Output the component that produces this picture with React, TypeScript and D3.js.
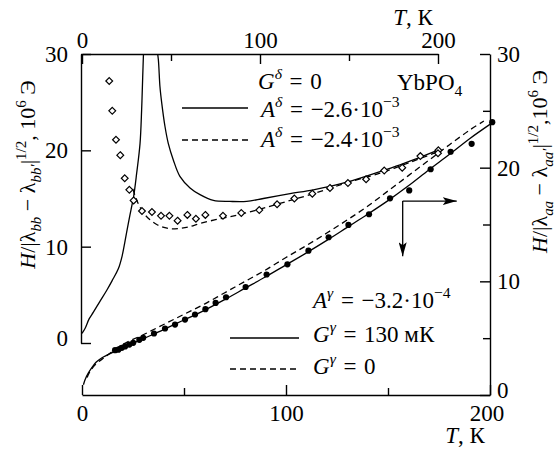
import { useEffect, useRef } from 'react';
import * as d3 from 'd3';

// open diamonds: top T axis, left axis
const diamondT = [15.3, 17.0, 19.1, 21.5, 24.0, 26.6, 29.0, 33.7, 39.3, 44.4, 49.1, 53.7, 59.2, 64.0, 69.3, 79.2, 89.5, 99.6, 109.6, 119.3, 129.4, 139.3, 149.4, 159.6, 169.8, 179.9, 190.1, 200.2, 200.0];
const diamondH = [27.2, 24.1, 21.1, 19.5, 17.1, 15.9, 14.8, 13.7, 13.6, 13.2, 13.2, 12.7, 13.3, 12.9, 13.3, 13.2, 13.5, 13.8, 14.4, 15.0, 15.5, 16.1, 16.6, 17.0, 17.9, 18.2, 19.4, 20.0, 19.7];

// filled circles: bottom T axis, right axis
const circleT = [16.2, 17.8, 19.5, 21.1, 23.2, 25.1, 28.1, 30.0, 35.3, 40.7, 45.6, 50.5, 55.4, 60.5, 65.5, 70.6, 80.2, 90.5, 100.7, 111, 120.9, 130.6, 140.7, 151, 160.4, 170.9, 180.7, 191, 201.1];
const circleH = [3.94, 3.99, 4.15, 4.27, 4.44, 4.59, 4.85, 5.03, 5.41, 5.85, 6.2, 6.64, 7.08, 7.55, 8.1, 8.6, 9.5, 10.6, 11.5, 12.7, 13.88, 14.96, 15.9, 17.3, 18.0, 19.86, 21.4, 22.1, 24.0];

// A^delta = -2.6e-3 (two branches around the pole)
const deltaSolidLow: [number, number][] = [
  [0, 1.0], [1.7, 1.5], [4, 2.5], [6.4, 3.2], [10, 4.3], [14, 5.5], [17, 6.5], [20.4, 7.7],
  [22.5, 9.0], [24.2, 10.6], [26, 12.4], [27.5, 13.8], [29, 15.2], [30.7, 17.6], [32.6, 20.7],
  [33.5, 24.2], [34.1, 27.6], [34.6, 30.4],
];
const deltaSolidHigh: [number, number][] = [
  [42.2, 30.4], [42.9, 29.4], [43.8, 26.6], [44.8, 24.9], [46.6, 22.5], [48.5, 20.7], [51.3, 19.0],
  [55, 17.3], [60.7, 16.1], [66.3, 15.4], [73.8, 14.8], [83.1, 14.7], [92.5, 14.7], [101.9, 15.0],
  [116.9, 15.5], [130, 15.9], [148.7, 16.7], [167.4, 17.8], [178.7, 18.5], [186.1, 19.0], [201, 20.1],
];
// A^delta = -2.4e-3
const deltaDashed: [number, number][] = [
  [28.5, 16.0], [30, 15.2], [32, 14.3], [35, 13.4], [38.2, 12.8], [42, 12.3], [46, 12.0], [50, 11.85],
  [55, 11.9], [60, 12.05], [66.3, 12.4], [75, 12.8], [83, 13.1], [92, 13.5], [102, 14.0], [117, 14.8],
  [130, 15.5], [140, 16.1], [150, 16.7], [167, 17.6], [185, 18.8], [200.5, 19.9],
];

// G^gamma = 130 mK
const gammaSolid: [number, number][] = [
  [0.7, 0.9], [1.5, 1.35], [3, 1.9], [5, 2.45], [7, 2.9], [10, 3.3], [15, 3.75], [20, 4.15], [30, 4.95],
  [40, 5.75], [50, 6.6], [60, 7.45], [70, 8.4], [80, 9.4], [90, 10.4], [100, 11.45], [110, 12.5],
  [120, 13.6], [130, 14.75], [140, 15.9], [150, 17.1], [160, 18.4], [170, 19.8], [180, 21.15],
  [190, 22.55], [201.5, 24.0],
];
// G^gamma = 0
const gammaDashed: [number, number][] = [
  [2.5, 1.55], [4, 2.1], [7, 2.75], [11, 3.3], [20, 4.45], [30, 5.3], [40, 6.2], [50, 7.1], [60, 8.0],
  [70, 9.0], [80, 10.0], [90, 11.0], [100, 12.1], [110, 13.15], [120, 14.25], [130, 15.4], [140, 16.6],
  [150, 17.95], [160, 19.3], [170, 20.65], [180, 22.0], [190, 23.3], [197, 24.1],
];

const tickMajorT = [0, 100, 200];
const tickMinorT = [50, 150];
const tickMajorH = [0, 10, 20, 30];
const tickMinorH = [5, 15, 25];

// arrow corner and ends, in bottom-T / right-H units
const arrowCorner = [157.2, 17.06];
const arrowRightT = 183.7;
const arrowDownH = 12.2;

type Seg = { t: string; i?: boolean; s?: 'sup' | 'sub' };

const FONT = '"Liberation Serif", "DejaVu Serif", serif';
const SIZE = 23;
const EQ = '\u2004=\u2004';

function mathText(
  sel: d3.Selection<SVGTextElement, unknown, null, undefined>,
  segs: Seg[],
  size: number,
) {
  let shift = 0;
  segs.forEach((seg) => {
    const target = seg.s === 'sup' ? -size * 0.42 : seg.s === 'sub' ? size * 0.25 : 0;
    sel
      .append('tspan')
      .attr('dy', target - shift)
      .attr('font-size', seg.s ? size * 0.68 : size)
      .attr('font-style', seg.i ? 'italic' : 'normal')
      .text(seg.t);
    shift = target;
  });
}

export default function App() {
  const svgRef = useRef<SVGSVGElement>(null);

  useEffect(() => {
    if (!svgRef.current) return;
    const width = 556;
    const height = 452;
    const svg = d3.select(svgRef.current);
    svg.selectAll('*').remove();
    svg.attr('width', width).attr('height', height);

    const xBottom = d3.scaleLinear().domain([0, 200]).range([82, 490]);
    const xTop = d3.scaleLinear().domain([0, 200]).range([82, 438]);
    const yLeft = d3.scaleLinear().domain([0, 30]).range([343, 54]);
    const yRight = d3.scaleLinear().domain([0, 30]).range([395, 54]);

    const defs = svg.append('defs');
    defs
      .append('clipPath')
      .attr('id', 'plot-clip')
      .append('rect')
      .attr('x', 81)
      .attr('y', 54)
      .attr('width', 410)
      .attr('height', 342);
    defs
      .append('marker')
      .attr('id', 'arrow')
      .attr('markerUnits', 'userSpaceOnUse')
      .attr('viewBox', '0 0 14 8')
      .attr('refX', 14)
      .attr('refY', 4)
      .attr('markerWidth', 14)
      .attr('markerHeight', 8)
      .attr('orient', 'auto')
      .append('path')
      .attr('d', 'M0,0 L14,4 L0,8 L3,4 Z')
      .attr('fill', '#000');

    // axes
    const styleAxis = (g: d3.Selection<SVGGElement, unknown, null, undefined>) => {
      g.select('.domain').attr('stroke', '#000').attr('stroke-width', 1.4);
      g.selectAll('.tick line').attr('stroke', '#000').attr('stroke-width', 1.4);
      g.selectAll('.tick text')
        .attr('fill', '#000')
        .attr('font-family', FONT)
        .attr('font-size', SIZE);
    };

    const gTop = svg
      .append('g')
      .attr('transform', 'translate(0,54)')
      .call(d3.axisTop(xTop).tickValues(tickMajorT).tickSize(-10).tickSizeOuter(0).tickPadding(6));
    styleAxis(gTop);
    svg
      .append('g')
      .attr('transform', 'translate(0,54)')
      .call(d3.axisTop(xTop).tickValues(tickMinorT).tickSize(-7).tickFormat(() => ''))
      .call((g) => g.select('.domain').remove())
      .call(styleAxis);

    const gBottom = svg
      .append('g')
      .attr('transform', 'translate(0,395)')
      .call(d3.axisBottom(xBottom).tickValues(tickMajorT).tickSize(-10).tickSizeOuter(0).tickPadding(10));
    styleAxis(gBottom);
    gBottom.selectAll<SVGTextElement, number>('.tick text').filter((d) => d === 200).attr('dx', '-0.15em');
    svg
      .append('g')
      .attr('transform', 'translate(0,395)')
      .call(d3.axisBottom(xBottom).tickValues(tickMinorT).tickSize(-7).tickFormat(() => ''))
      .call((g) => g.select('.domain').remove())
      .call(styleAxis);

    const gLeft = svg
      .append('g')
      .attr('transform', 'translate(81,0)')
      .call(d3.axisLeft(yLeft).tickValues(tickMajorH).tickSize(-10).tickSizeOuter(0).tickPadding(13));
    styleAxis(gLeft);
    gLeft.selectAll<SVGTextElement, number>('.tick text').filter((d) => d === 0).attr('dy', '0.12em');

    const gRight = svg
      .append('g')
      .attr('transform', 'translate(490,0)')
      .call(d3.axisRight(yRight).tickValues(tickMajorH).tickSize(-10).tickSizeOuter(0).tickPadding(7));
    styleAxis(gRight);
    gRight.selectAll<SVGTextElement, number>('.tick text').filter((d) => d === 0).attr('dy', '0.1em');
    svg
      .append('g')
      .attr('transform', 'translate(490,0)')
      .call(d3.axisRight(yRight).tickValues(tickMinorH).tickSize(-7).tickFormat(() => ''))
      .call((g) => g.select('.domain').remove())
      .call(styleAxis);

    // curves
    const plot = svg.append('g').attr('clip-path', 'url(#plot-clip)');
    const lineTop = d3
      .line<[number, number]>()
      .x((d) => xTop(d[0]))
      .y((d) => yLeft(d[1]))
      .curve(d3.curveCatmullRom.alpha(0.5));
    const lineBottom = d3
      .line<[number, number]>()
      .x((d) => xBottom(d[0]))
      .y((d) => yRight(d[1]))
      .curve(d3.curveCatmullRom.alpha(0.5));

    const drawCurve = (d: string | null, dashed: boolean) =>
      plot
        .append('path')
        .attr('d', d)
        .attr('fill', 'none')
        .attr('stroke', '#000')
        .attr('stroke-width', 1.3)
        .attr('stroke-dasharray', dashed ? '6,4' : null);

    drawCurve(lineTop(deltaSolidLow), false);
    drawCurve(lineTop(deltaSolidHigh), false);
    drawCurve(lineTop(deltaDashed), true);
    drawCurve(lineBottom(gammaSolid), false);
    drawCurve(lineBottom(gammaDashed), true);

    // markers
    const r = 3.4;
    svg
      .append('g')
      .selectAll('path')
      .data(diamondT.map((t, i) => [t, diamondH[i]]))
      .enter()
      .append('path')
      .attr('d', (d) => {
        const cx = xTop(d[0]);
        const cy = yLeft(d[1]);
        return `M${cx},${cy - r}L${cx + r},${cy}L${cx},${cy + r}L${cx - r},${cy}Z`;
      })
      .attr('fill', '#fff')
      .attr('stroke', '#000')
      .attr('stroke-width', 1.2);

    svg
      .append('g')
      .selectAll('circle')
      .data(circleT.map((t, i) => [t, circleH[i]]))
      .enter()
      .append('circle')
      .attr('cx', (d) => xBottom(d[0]))
      .attr('cy', (d) => yRight(d[1]))
      .attr('r', 3.1)
      .attr('fill', '#000');

    // arrow pointing to the right and bottom axes
    const ax = xBottom(arrowCorner[0]);
    const ay = yRight(arrowCorner[1]);
    svg
      .append('line')
      .attr('x1', ax).attr('y1', ay)
      .attr('x2', xBottom(arrowRightT)).attr('y2', ay)
      .attr('stroke', '#000').attr('stroke-width', 1.3)
      .attr('marker-end', 'url(#arrow)');
    svg
      .append('line')
      .attr('x1', ax).attr('y1', ay)
      .attr('x2', ax).attr('y2', yRight(arrowDownH))
      .attr('stroke', '#000').attr('stroke-width', 1.3)
      .attr('marker-end', 'url(#arrow)');

    // legend
    const legendLine = (x1: number, x2: number, y: number, dashed: boolean) =>
      svg
        .append('line')
        .attr('x1', x1).attr('x2', x2).attr('y1', y).attr('y2', y)
        .attr('stroke', '#000').attr('stroke-width', 1.3)
        .attr('stroke-dasharray', dashed ? '6,4' : null);
    legendLine(182, 248, 108, false);
    legendLine(182, 248, 140, true);
    legendLine(230, 299, 338, false);
    legendLine(230, 299, 369, true);

    const label = (x: number, y: number, segs: Seg[], size = SIZE, anchor = 'start') => {
      const t = svg
        .append('text')
        .attr('x', x)
        .attr('y', y)
        .attr('font-family', FONT)
        .attr('text-anchor', anchor)
        .style('white-space', 'pre')
        .attr('fill', '#000');
      mathText(t, segs, size);
      return t;
    };

    label(258, 89, [{ t: 'G', i: true }, { t: 'δ', i: true, s: 'sup' }, { t: `${EQ}0` }]);
    label(397, 90, [{ t: 'YbPO' }, { t: '4', s: 'sub' }]);
    label(261, 117, [{ t: 'A', i: true }, { t: 'δ', i: true, s: 'sup' }, { t: `${EQ}−2.6·10` }, { t: '−3', s: 'sup' }]);
    label(261, 147, [{ t: 'A', i: true }, { t: 'δ', i: true, s: 'sup' }, { t: `${EQ}−2.4·10` }, { t: '−3', s: 'sup' }]);
    label(313, 308, [{ t: 'A', i: true }, { t: 'γ', i: true, s: 'sup' }, { t: `${EQ}−3.2·10` }, { t: '−4', s: 'sup' }]);
    label(313, 342, [{ t: 'G', i: true }, { t: 'γ', i: true, s: 'sup' }, { t: `${EQ}130 мК` }]);
    label(313, 374, [{ t: 'G', i: true }, { t: 'γ', i: true, s: 'sup' }, { t: `${EQ}0` }]);

    // axis titles
    label(413, 25, [{ t: 'T', i: true }, { t: ', К' }], SIZE, 'middle');
    label(465, 443, [{ t: 'T', i: true }, { t: ', К' }], SIZE, 'middle');

    const leftTitle = svg
      .append('text')
      .attr('transform', 'translate(35,174.5) rotate(-90)')
      .attr('font-family', FONT)
      .attr('text-anchor', 'middle')
      .style('white-space', 'pre');
    mathText(
      leftTitle,
      [
        { t: 'H', i: true }, { t: '/|λ' }, { t: 'bb', i: true, s: 'sub' }, { t: ' − λ' },
        { t: 'bb′', i: true, s: 'sub' }, { t: '|' }, { t: '1/2', s: 'sup' }, { t: ', 10' },
        { t: '6', s: 'sup' }, { t: ' Э' },
      ],
      22,
    );

    const rightTitle = svg
      .append('text')
      .attr('transform', 'translate(547,161.5) rotate(-90)')
      .attr('font-family', FONT)
      .attr('text-anchor', 'middle')
      .style('white-space', 'pre');
    mathText(
      rightTitle,
      [
        { t: 'H', i: true }, { t: '/|λ' }, { t: 'aa', i: true, s: 'sub' }, { t: ' − λ' },
        { t: 'aa′', i: true, s: 'sub' }, { t: '|' }, { t: '1/2', s: 'sup' }, { t: ',10' },
        { t: '6', s: 'sup' }, { t: ' Э' },
      ],
      22,
    );
  }, []);

  return (
    <svg
      ref={svgRef}
      style={{ position: 'absolute', left: 0, top: 0, background: '#fff' }}
    />
  );
}
